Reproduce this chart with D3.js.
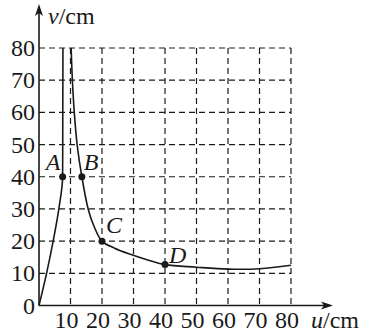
<!DOCTYPE html>
<html lang="en">
<head>
	<meta charset="utf-8">
	<title>v-u curve</title>
	<script src="https://cdn.jsdelivr.net/npm/d3@7"></script>
	<style>
		body { margin: 0; background: #fff; }
		svg text { font-family: "Liberation Serif", "Times New Roman", Tinos, "DejaVu Serif", serif; fill: #1a1a1a; }
	</style>
</head>
<body>
	<script>
		// data (u, v in cm)
		const ticks = [10, 20, 30, 40, 50, 60, 70, 80];
		const leftU = [7.6, 7.55, 7.5, 6.3, 4.5, 2.4, 0];
		const leftV = [80, 60, 40, 30, 20, 10, 0];
		const rightU = [10.2, 10.6, 11.2, 12.1, 13.6, 15.6, 17.3, 20, 24, 29, 34, 40, 50, 60, 70, 80];
		const rightV = [80, 70, 60, 50, 40, 30, 25, 20, 17.8, 15.9, 14.3, 12.7, 11.9, 11.3, 11.4, 12.5];
		const pointNames = ["A", "B", "C", "D"];
		const pointU = [7.5, 13.6, 20, 40];
		const pointV = [40, 40, 20, 12.7];

		const w = 376, h = 333;
		const ink = "#1a1a1a";

		const x = d3.scaleLinear().domain([0, 80]).range([39, 291]);
		const y = d3.scaleLinear().domain([0, 80]).range([305.5, 48]);

		const svg = d3.select("body").append("svg")
			.attr("width", w)
			.attr("height", h);

		// dashed grid
		svg.append("g").selectAll("line")
			.data(ticks)
			.enter()
			.append("line")
			.attr("x1", x(0)).attr("x2", x(80))
			.attr("y1", d => y(d)).attr("y2", d => y(d))
			.attr("stroke", ink).attr("stroke-width", 1.2)
			.attr("stroke-dasharray", "6,4");

		svg.append("g").selectAll("line")
			.data(ticks)
			.enter()
			.append("line")
			.attr("x1", d => x(d)).attr("x2", d => x(d))
			.attr("y1", y(80)).attr("y2", y(0))
			.attr("stroke", ink).attr("stroke-width", 1.2)
			.attr("stroke-dasharray", "6,4");

		// axes with arrows
		svg.append("line")
			.attr("x1", x(0)).attr("x2", x(0))
			.attr("y1", y(0)).attr("y2", 12)
			.attr("stroke", ink).attr("stroke-width", 1.6);
		svg.append("path")
			.attr("d", `M${x(0)},4 L${x(0) - 4},16 L${x(0)},13 L${x(0) + 4},16 Z`)
			.attr("fill", ink);

		svg.append("line")
			.attr("x1", x(0)).attr("x2", 325)
			.attr("y1", y(0)).attr("y2", y(0))
			.attr("stroke", ink).attr("stroke-width", 1.6);
		svg.append("path")
			.attr("d", `M333,${y(0)} L321,${y(0) - 4} L324,${y(0)} L321,${y(0) + 4} Z`)
			.attr("fill", ink);

		// tick labels
		svg.append("g").selectAll("text")
			.data([0].concat(ticks))
			.enter()
			.append("text")
			.attr("x", 35)
			.attr("y", d => y(d) + 8)
			.attr("text-anchor", "end")
			.attr("font-size", 24)
			.text(d => d);

		svg.append("g").selectAll("text")
			.data(ticks)
			.enter()
			.append("text")
			.attr("x", d => x(d) - 4)
			.attr("y", 328)
			.attr("text-anchor", "middle")
			.attr("font-size", 24)
			.text(d => d);

		// axis titles
		const vt = svg.append("text").attr("x", 48).attr("y", 24).attr("font-size", 24);
		vt.append("tspan").attr("font-style", "italic").text("v");
		vt.append("tspan").text("/cm");

		const ut = svg.append("text").attr("x", 311).attr("y", 328).attr("font-size", 24);
		ut.append("tspan").attr("font-style", "italic").text("u");
		ut.append("tspan").text("/cm");

		// curve branches
		const left = leftU.map((u, i) => [u, leftV[i]]);
		const right = rightU.map((u, i) => [u, rightV[i]]);

		svg.append("path")
			.datum(left)
			.attr("d", d3.line().x(d => x(d[0])).y(d => y(d[1])).curve(d3.curveMonotoneY))
			.attr("fill", "none").attr("stroke", ink).attr("stroke-width", 1.6);

		svg.append("path")
			.datum(right)
			.attr("d", d3.line().x(d => x(d[0])).y(d => y(d[1])).curve(d3.curveCatmullRom.alpha(0.5)))
			.attr("fill", "none").attr("stroke", ink).attr("stroke-width", 1.6);

		// labelled points
		svg.append("g").selectAll("circle")
			.data(pointU)
			.enter()
			.append("circle")
			.attr("cx", d => x(d))
			.attr("cy", (d, i) => y(pointV[i]))
			.attr("r", 3.5)
			.attr("fill", ink);

		const labelDx = [-17, 2, 4, 4];
		const labelDy = [-7, -7, -8, -2];
		svg.append("g").selectAll("text")
			.data(pointNames)
			.enter()
			.append("text")
			.attr("x", (d, i) => x(pointU[i]) + labelDx[i])
			.attr("y", (d, i) => y(pointV[i]) + labelDy[i])
			.attr("font-size", 24)
			.attr("font-style", "italic")
			.text(d => d);
	</script>
</body>
</html>
